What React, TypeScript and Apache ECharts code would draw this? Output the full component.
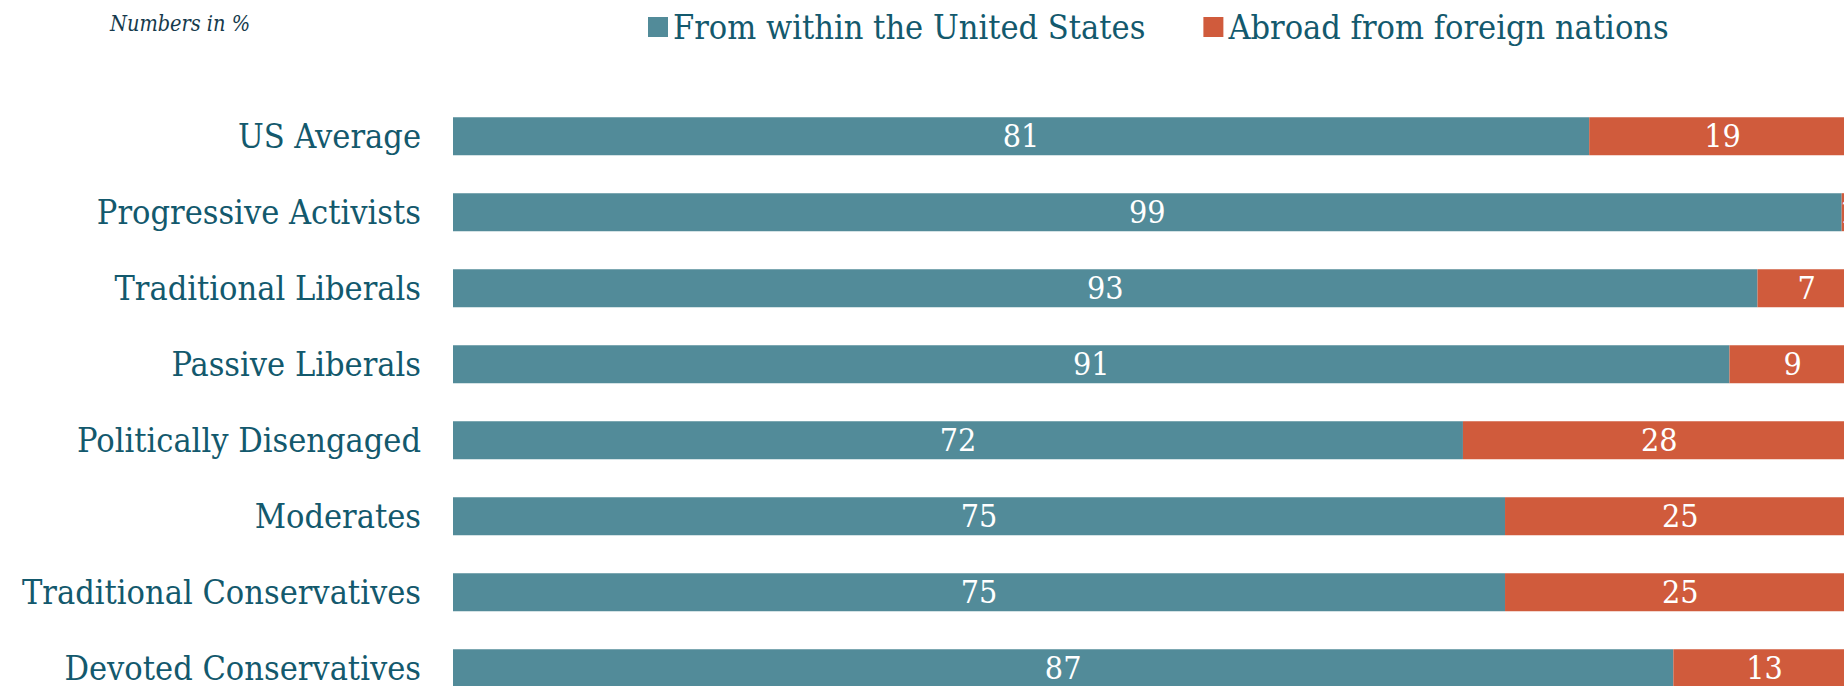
import React, { useEffect, useRef } from "react";
import * as echarts from "echarts";

const categories = [
  "US Average",
  "Progressive Activists",
  "Traditional Liberals",
  "Passive Liberals",
  "Politically Disengaged",
  "Moderates",
  "Traditional Conservatives",
  "Devoted Conservatives",
];
const withinUS = [81, 99, 93, 91, 72, 75, 75, 87];
const abroad = [19, 1, 7, 9, 28, 25, 25, 13];
const seriesNames = ["From within the United States", "Abroad from foreign nations"];
const note = "Numbers in %";

const FONT = "'DejaVu Serif Condensed', 'Liberation Serif', serif";
const BLUE = "#528b99";
const RED = "#d05b3c";
const TEXT = "#13596d";

export default function App() {
  const ref = useRef<HTMLDivElement>(null);
  useEffect(() => {
    const chart = echarts.init(ref.current!, null, { renderer: "svg" });
    const label = {
      show: true,
      position: "inside",
      color: "#ffffff",
      fontFamily: FONT,
      fontSize: 32,
    };
    chart.setOption({
      animation: false,
      legend: {
        left: 643,
        top: 5,
        itemWidth: 20,
        itemHeight: 20,
        itemGap: 58,
        icon: "rect",
        data: seriesNames,
        textStyle: { fontFamily: FONT, fontSize: 34, color: TEXT },
      },
      graphic: [
        {
          type: "text",
          left: 110,
          top: 12,
          style: {
            text: note,
            fontFamily: FONT,
            fontStyle: "italic",
            fontSize: 21.5,
            fill: "#163a4c",
          },
        },
      ],
      grid: { left: 453, right: 24.3, top: 98.2, bottom: 23.8 },
      xAxis: { type: "value", min: 0, max: 100, show: false },
      yAxis: {
        type: "category",
        data: categories,
        inverse: true,
        axisLine: { show: false },
        axisTick: { show: false },
        axisLabel: { fontFamily: FONT, fontSize: 34, color: TEXT, margin: 32 },
      },
      series: [
        {
          name: seriesNames[0],
          type: "bar",
          stack: "total",
          data: withinUS,
          barCategoryGap: "50%",
          itemStyle: { color: BLUE },
          label,
        },
        {
          name: seriesNames[1],
          type: "bar",
          stack: "total",
          data: abroad,
          barCategoryGap: "50%",
          itemStyle: { color: RED },
          label,
        },
      ],
    });
    return () => chart.dispose();
  }, []);
  return (
    <div
      style={{
        position: "fixed",
        left: 0,
        top: 0,
        width: 1844,
        height: 686,
        overflow: "hidden",
        background: "#ffffff",
      }}
    >
      <div ref={ref} style={{ width: 1880, height: 730 }} />
    </div>
  );
}
